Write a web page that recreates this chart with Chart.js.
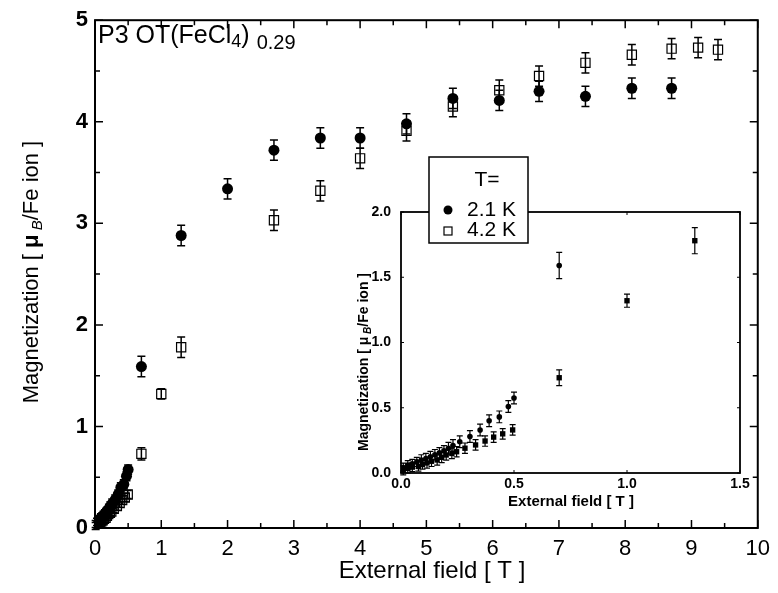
<!DOCTYPE html>
<html>
<head>
<meta charset="utf-8">
<script src="https://cdn.jsdelivr.net/npm/chart.js@4.4.0/dist/chart.umd.min.js"></script>
<style>
body { margin: 0; background: #fff; }
#wrap { position: relative; width: 778px; height: 593px; }
#main { position: absolute; left: 0; top: 0; }
#inset { position: absolute; left: 340px; top: 150px; }
</style>
</head>
<body>
<div id="wrap">
<canvas id="main" width="778" height="593"></canvas>
<canvas id="inset" width="420" height="370"></canvas>
</div>
<script>
// datos a T = 2.1 K
var field21 = [0.01, 0.03, 0.05, 0.07, 0.09, 0.11, 0.13, 0.15, 0.17, 0.19, 0.21, 0.23, 0.26, 0.305, 0.35, 0.39, 0.435, 0.475, 0.50,
               0.70, 1.30, 2.00, 2.70, 3.40, 4.00, 4.70, 5.40, 6.10, 6.70, 7.40, 8.10, 8.70];
var mag21 = [0.04, 0.06, 0.07, 0.085, 0.10, 0.11, 0.125, 0.14, 0.155, 0.17, 0.19, 0.21, 0.24, 0.28, 0.33, 0.40, 0.43, 0.51, 0.575,
             1.59, 2.88, 3.34, 3.72, 3.84, 3.84, 3.98, 4.23, 4.21, 4.30, 4.25, 4.33, 4.33];
var err21 = [0.035, 0.035, 0.035, 0.035, 0.04, 0.04, 0.04, 0.04, 0.04, 0.04, 0.045, 0.045, 0.045, 0.045, 0.045, 0.045, 0.045, 0.045, 0.045,
             0.1, 0.1, 0.1, 0.1, 0.1, 0.1, 0.1, 0.1, 0.1, 0.1, 0.1, 0.1, 0.1];

// datos a T = 4.2 K
var field42 = [0.01, 0.03, 0.05, 0.077, 0.095, 0.115, 0.135, 0.16, 0.18, 0.20, 0.225, 0.246, 0.283, 0.33, 0.372, 0.41, 0.45, 0.494,
               0.70, 1.00, 1.30, 2.70, 3.40, 4.00, 4.70, 5.40, 6.10, 6.70, 7.40, 8.10, 8.70, 9.10, 9.40];
var mag42 = [0.02, 0.035, 0.045, 0.05, 0.065, 0.077, 0.09, 0.10, 0.12, 0.138, 0.15, 0.163, 0.19, 0.215, 0.245, 0.275, 0.30, 0.33,
             0.73, 1.32, 1.78, 3.03, 3.32, 3.64, 3.91, 4.15, 4.31, 4.45, 4.58, 4.66, 4.72, 4.73, 4.71];
var err42 = [0.035, 0.035, 0.035, 0.035, 0.035, 0.04, 0.04, 0.04, 0.04, 0.04, 0.04, 0.04, 0.04, 0.04, 0.04, 0.04, 0.04, 0.04,
             0.06, 0.05, 0.1, 0.1, 0.1, 0.1, 0.1, 0.1, 0.1, 0.1, 0.1, 0.1, 0.1, 0.1, 0.1];

// etiquetas de los ejes
var mainXTicks = [0, 1, 2, 3, 4, 5, 6, 7, 8, 9, 10];
var mainYTicks = [0, 1, 2, 3, 4, 5];
var insetXTicks = [0, 0.5, 1.0, 1.5];
var insetYTicks = [0, 0.5, 1.0, 1.5, 2.0];
var insetMaxField = 1.5;

function puntos(xs, ys, maxX) {
    var out = [];
    for (var i = 0; i < xs.length; i++) {
        if (maxX === undefined || xs[i] <= maxX) out.push({x: xs[i], y: ys[i]});
    }
    return out;
}
function errores(xs, es, maxX) {
    var out = [];
    for (var i = 0; i < xs.length; i++) {
        if (maxX === undefined || xs[i] <= maxX) out.push(es[i]);
    }
    return out;
}

// texto con subindices: parts = [[texto, fuente, dy], ...]
function richText(ctx, parts, x, y, align) {
    var total = 0;
    parts.forEach(function (p) { ctx.font = p[1]; total += ctx.measureText(p[0]).width; });
    var cx = align === 'center' ? x - total / 2 : x;
    ctx.textAlign = 'left';
    ctx.textBaseline = 'alphabetic';
    parts.forEach(function (p) {
        ctx.font = p[1];
        ctx.fillText(p[0], cx, y + (p[2] || 0));
        cx += ctx.measureText(p[0]).width;
    });
}

var errorBars = {
    id: 'errorBars',
    beforeDatasetsDraw: function (chart, args, opts) {
        var ctx = chart.ctx, ys = chart.scales.y;
        chart.data.datasets.forEach(function (ds, i) {
            var meta = chart.getDatasetMeta(i);
            ctx.save();
            ctx.strokeStyle = '#000';
            ctx.lineWidth = opts.width;
            meta.data.forEach(function (pt, j) {
                var v = ds.data[j].y, e = ds.errors[j];
                var top = ys.getPixelForValue(v + e), bot = ys.getPixelForValue(v - e);
                ctx.beginPath();
                ctx.moveTo(pt.x, top); ctx.lineTo(pt.x, bot);
                ctx.moveTo(pt.x - opts.cap, top); ctx.lineTo(pt.x + opts.cap, top);
                ctx.moveTo(pt.x - opts.cap, bot); ctx.lineTo(pt.x + opts.cap, bot);
                ctx.stroke();
            });
            ctx.restore();
        });
    }
};

// marco y marcas hacia dentro
var frame = {
    id: 'frame',
    afterDraw: function (chart, args, opts) {
        var ctx = chart.ctx, a = chart.chartArea;
        var xs = chart.scales.x, ys = chart.scales.y;
        ctx.save();
        ctx.strokeStyle = '#000';
        ctx.lineWidth = opts.width;
        ctx.strokeRect(a.left, a.top, a.right - a.left, a.bottom - a.top);
        ctx.lineWidth = opts.tickWidth;
        ctx.beginPath();
        for (var v = xs.min; v <= xs.max + 1e-9; v += opts.xMinor) {
            var px = xs.getPixelForValue(v);
            var len = Math.abs(v / opts.xMajor - Math.round(v / opts.xMajor)) < 1e-6 ? opts.major : opts.minor;
            ctx.moveTo(px, a.bottom); ctx.lineTo(px, a.bottom - len);
            if (opts.mirror) { ctx.moveTo(px, a.top); ctx.lineTo(px, a.top + len); }
        }
        for (var w = ys.min; w <= ys.max + 1e-9; w += opts.yMinor) {
            var py = ys.getPixelForValue(w);
            var l2 = Math.abs(w / opts.yMajor - Math.round(w / opts.yMajor)) < 1e-6 ? opts.major : opts.minor;
            ctx.moveTo(a.left, py); ctx.lineTo(a.left + l2, py);
            if (opts.mirror) { ctx.moveTo(a.right, py); ctx.lineTo(a.right - l2, py); }
        }
        ctx.stroke();
        ctx.restore();
    }
};

var mainText = {
    id: 'mainText',
    afterDraw: function (chart) {
        var ctx = chart.ctx;
        ctx.save();
        ctx.fillStyle = '#000';
        richText(ctx, [['P3 OT(FeCl', '25px "Liberation Sans"', 0], ['4', '18px "Liberation Sans"', 4],
                       [') ', '25px "Liberation Sans"', 0], ['0.29', '20px "Liberation Sans"', 6]], 98, 43, 'left');
        richText(ctx, [['External field [ T ]', '24px "Liberation Sans"', 0]], 432, 578, 'center');
        ctx.translate(38, 272);
        ctx.rotate(-Math.PI / 2);
        richText(ctx, [['Magnetization [ ', '22px "Liberation Sans"', 0], ['μ', 'bold 22px "Liberation Sans"', 0],
                       [' B', 'italic 15px "Liberation Sans"', 4], ['/Fe ion ]', '22px "Liberation Sans"', 0]], 0, 0, 'center');
        ctx.restore();
    }
};

var insetText = {
    id: 'insetText',
    afterDraw: function (chart) {
        var ctx = chart.ctx;
        ctx.save();
        ctx.fillStyle = '#000';
        richText(ctx, [['External field [ T ]', 'bold 15px "Liberation Sans"', 0]], 231, 356, 'center');
        ctx.save();
        ctx.translate(28, 212);
        ctx.rotate(-Math.PI / 2);
        richText(ctx, [['Magnetization [ ', 'bold 14px "Liberation Sans"', 0], ['μ', 'bold 14px "Liberation Sans"', 0],
                       [' B', 'bold italic 10px "Liberation Sans"', 3], ['/Fe ion ]', 'bold 14px "Liberation Sans"', 0]], 0, 0, 'center');
        ctx.restore();
        // leyenda
        ctx.fillStyle = '#fff';
        ctx.fillRect(89, 7, 99, 86);
        ctx.strokeStyle = '#000';
        ctx.lineWidth = 1.5;
        ctx.strokeRect(89, 7, 99, 86);
        ctx.fillStyle = '#000';
        ctx.font = '21px "Liberation Sans"';
        ctx.textBaseline = 'middle';
        ctx.textAlign = 'center';
        ctx.fillText('T=', 147, 30);
        ctx.textAlign = 'left';
        ctx.fillText('2.1 K', 127, 60);
        ctx.fillText('4.2 K', 127, 80);
        ctx.beginPath();
        ctx.arc(108, 60, 4.5, 0, 2 * Math.PI);
        ctx.fill();
        ctx.lineWidth = 1.2;
        ctx.strokeRect(104, 77, 8, 8);
        ctx.restore();
    }
};

function fijarTicks(arr) {
    return function (scale) { scale.ticks = arr.map(function (v) { return {value: v}; }); };
}

new Chart(document.getElementById('main'), {
    type: 'scatter',
    data: {
        datasets: [{
            label: '2.1 K',
            data: puntos(field21, mag21),
            errors: errores(field21, err21),
            pointStyle: 'circle',
            pointRadius: 5.5,
            backgroundColor: '#000',
            borderColor: '#000',
            borderWidth: 0
        }, {
            label: '4.2 K',
            data: puntos(field42, mag42),
            errors: errores(field42, err42),
            pointStyle: 'rect',
            pointRadius: 6.5,
            backgroundColor: 'rgba(0,0,0,0)',
            borderColor: '#000',
            borderWidth: 1.2
        }]
    },
    options: {
        responsive: false,
        animation: false,
        events: [],
        layout: {padding: {left: 0, top: 18, right: 13, bottom: 0}},
        plugins: {
            legend: {display: false},
            tooltip: {enabled: false},
            errorBars: {width: 1.5, cap: 4},
            frame: {width: 2, tickWidth: 1.5, mirror: true, xMajor: 1, xMinor: 0.5, yMajor: 1, yMinor: 0.5, major: 8, minor: 5}
        },
        scales: {
            x: {
                type: 'linear', min: 0, max: 10,
                afterBuildTicks: fijarTicks(mainXTicks),
                afterFit: function (s) { s.height = 65; },
                grid: {display: false, drawTicks: false},
                border: {display: false},
                ticks: {color: '#000', font: {family: 'Liberation Sans', size: 22}, padding: 8, maxRotation: 0, autoSkip: false}
            },
            y: {
                type: 'linear', min: 0, max: 5,
                afterBuildTicks: fijarTicks(mainYTicks),
                afterFit: function (s) { s.width = 95; },
                grid: {display: false, drawTicks: false},
                border: {display: false},
                ticks: {color: '#000', font: {family: 'Liberation Sans', size: 22, weight: 'bold'}, padding: 7, autoSkip: false}
            }
        }
    },
    plugins: [errorBars, frame, mainText]
});

new Chart(document.getElementById('inset'), {
    type: 'scatter',
    data: {
        datasets: [{
            label: '2.1 K',
            data: puntos(field21, mag21, insetMaxField),
            errors: errores(field21, err21, insetMaxField),
            pointStyle: 'circle',
            pointRadius: 2.8,
            backgroundColor: '#000',
            borderWidth: 0
        }, {
            label: '4.2 K',
            data: puntos(field42, mag42, insetMaxField),
            errors: errores(field42, err42, insetMaxField),
            pointStyle: 'rect',
            pointRadius: 3.8,
            backgroundColor: '#000',
            borderWidth: 0
        }]
    },
    options: {
        responsive: false,
        animation: false,
        events: [],
        layout: {padding: {left: 0, top: 62, right: 20, bottom: 0}},
        plugins: {
            legend: {display: false},
            tooltip: {enabled: false},
            errorBars: {width: 1.2, cap: 3},
            frame: {width: 1.8, tickWidth: 1, mirror: true, xMajor: 0.5, xMinor: 0.5, yMajor: 0.5, yMinor: 0.5, major: 3, minor: 3}
        },
        scales: {
            x: {
                type: 'linear', min: 0, max: 1.5,
                afterBuildTicks: fijarTicks(insetXTicks),
                afterFit: function (s) { s.height = 47; },
                grid: {display: false, drawTicks: false},
                border: {display: false},
                ticks: {color: '#000', font: {family: 'Liberation Sans', size: 14, weight: 'bold'}, padding: 3, maxRotation: 0, autoSkip: false,
                        callback: function (v) { return v.toFixed(1); }}
            },
            y: {
                type: 'linear', min: 0, max: 2,
                afterBuildTicks: fijarTicks(insetYTicks),
                afterFit: function (s) { s.width = 61; },
                grid: {display: false, drawTicks: false},
                border: {display: false},
                ticks: {color: '#000', font: {family: 'Liberation Sans', size: 14, weight: 'bold'}, padding: 10, autoSkip: false,
                        callback: function (v) { return v.toFixed(1); }}
            }
        }
    },
    plugins: [errorBars, frame, insetText]
});
</script>
</body>
</html>
